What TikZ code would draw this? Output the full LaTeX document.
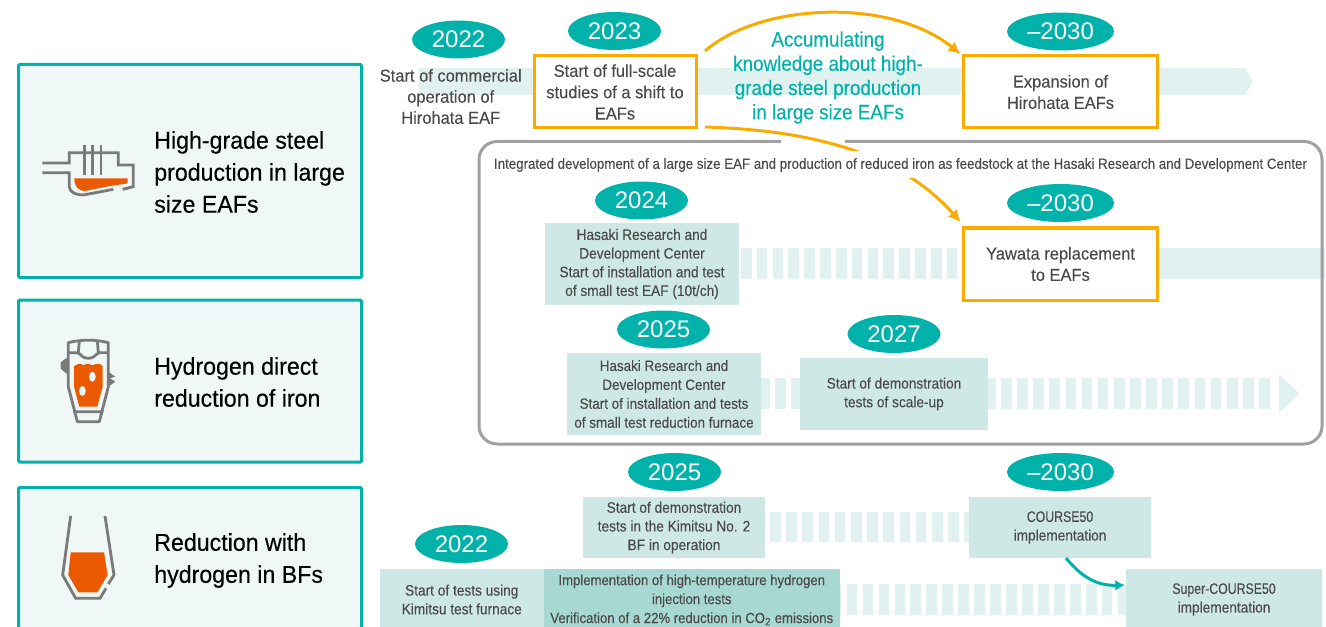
\documentclass[tikz,border=0pt]{standalone}
\usepackage{fontspec}
\setmainfont{Liberation Sans}
\newfontfamily\condf[FakeStretch=.90,FakeBold=.15]{Liberation Sans}
\newfontfamily\notef[FakeStretch=.95,FakeBold=.15]{Liberation Sans}
\newfontfamily\narrowf[FakeStretch=.81,FakeBold=.15]{Liberation Sans}
\newfontfamily\panelf[FakeStretch=.955,FakeBold=.3]{Liberation Sans}
\usetikzlibrary{arrows.meta,calc,shapes.geometric}
\definecolor{teal}{HTML}{00B2A9}
\definecolor{panelfill}{HTML}{EFF7F7}
\definecolor{band}{HTML}{E0F1EF}
\definecolor{boxfill}{HTML}{CEE8E5}
\definecolor{boxdark}{HTML}{A8D8D2}
\definecolor{amber}{HTML}{F9AB00}
\definecolor{frame}{HTML}{A0A0A0}
\definecolor{ink}{HTML}{4A4A4A}
\definecolor{icongray}{HTML}{7A7A7A}
\definecolor{molten}{HTML}{EB5A00}
\newcommand\pxw[1]{#1*0.75pt}
\tikzset{
  panel/.style={draw=teal,fill=panelfill,line width=2.25pt,rounded corners=1pt,inner sep=0pt,outer sep=0pt},
  paneltext/.style={anchor=west,align=left,inner sep=0pt,text=black,font=\panelf\fontsize{18.2}{24}\selectfont},
  yearoval/.style={ellipse,fill=teal,text=white,inner sep=0pt,outer sep=0pt,minimum width=\pxw{93},minimum height=\pxw{38},font=\fontsize{18}{20}\selectfont},
  amberbox/.style={draw=amber,fill=white,line width=2.25pt,inner sep=0pt,outer sep=0pt,align=center,text=ink,font=\notef\fontsize{13}{16}\selectfont},
  tealbox/.style={fill=boxfill,inner sep=0pt,outer sep=0pt,align=center,text=ink,font=\condf\fontsize{11.4}{14}\selectfont},
  darkbox/.style={tealbox,fill=boxdark,font=\condf\fontsize{10.95}{14.2}\selectfont},
  plainnote/.style={inner sep=0pt,align=center,text=ink,font=\notef\fontsize{13}{15.8}\selectfont},
  accumnote/.style={inner sep=0pt,align=center,text=teal,font=\condf\fontsize{15.7}{18.2}\selectfont},
  amberarrow/.style={draw=amber,line width=2.25pt,-{Latex[length=9pt,width=9pt]}},
  tealarrow/.style={draw=teal,line width=2.25pt,-{Latex[length=7pt,width=8pt]}},
  stripe/.style={fill=band,draw=none},
  icline/.style={draw=icongray,line width=2.1pt},
}
\begin{document}
\begin{tikzpicture}[x=0.75pt,y=-0.75pt]
\useasboundingbox (0,0) rectangle (1326,627);
\clip (0,0) rectangle (1326,627);

% left panels
\node[panel,minimum width=\pxw{343},minimum height=\pxw{213}] (p1) at (190,171) {};
\node[panel,minimum width=\pxw{343},minimum height=\pxw{162}] (p2) at (190,381) {};
\node[panel,minimum width=\pxw{343},minimum height=\pxw{141}] (p3) at (190,558) {};
\node[paneltext] (t1) at (154,172) {High-grade steel\\production in large\\size EAFs};
\node[paneltext] (t2) at (154,382) {Hydrogen direct\\reduction of iron};
\node[paneltext] (t3) at (154,560.5) {Reduction with\\hydrogen in BFs};

% icon 1
\begin{scope}[shift={(30,130)},x=0.25pt,y=-0.25pt]
  \fill[molten] (133,145) -- (293,145) -- (293,160) -- (230,170) -- (165,183) .. controls (142,181) and (133,168) .. cycle;
  \draw[icline] (37,99) -- (118,99) -- (118,68) -- (265,68) -- (265,105) -- (310,105) -- (310,170) -- (278,178);
  \draw[icline] (37,128) -- (118,128) -- (118,170) .. controls (118,188) and (140,195) .. (160,195) -- (250,178);
  \draw[icline] (163,45) -- (163,135) (187,45) -- (187,135) (213,45) -- (213,135);
\end{scope}
% icon 2
\begin{scope}[shift={(40,330)},x=0.25pt,y=-0.25pt]
  \fill[molten] (102,108) .. controls (115,100) and (125,100) .. (130,106) .. controls (140,100) and (150,100) .. (158,106) .. controls (170,100) and (180,100) .. (188,108) -- (188,170) -- (172,230) -- (118,230) -- (102,170) -- cycle;
  \fill[panelfill] (157,140) ellipse (10 and 15);
  \fill[panelfill] (127,183) ellipse (10 and 15);
  \fill[icongray] (62,97) -- (78,85) -- (86,85) -- (86,130) -- (78,130) -- (62,116) -- cycle;
  \fill[icongray] (205,125) -- (226,140) -- (210,145) -- (226,155) -- (205,170) -- cycle;
  \draw[icline,line join=round] (85,38) .. controls (125,28) and (165,28) .. (205,38) -- (205,170) -- (178,275) -- (112,275) -- (85,170) -- cycle;
  \draw[icline,line join=round] (85,68) -- (112,68) .. controls (125,72) and (125,85) .. (145,85) .. controls (165,85) and (165,72) .. (178,68) -- (205,68);
  \draw[icline] (118,33) -- (115,68) (172,33) -- (175,68) (100,245) -- (190,245);
\end{scope}
% icon 3
\begin{scope}[shift={(40,510)},x=0.25pt,y=-0.25pt]
  \fill[molten] (92,127) -- (192,127) -- (203,195) -- (172,247) -- (115,247) -- (85,195) -- cycle;
  \draw[icline] (92,18) -- (68,195) -- (107,265) -- (180,265) -- (198,235);
  \draw[icline] (205,222) -- (222,195) -- (195,18);
\end{scope}

% bands
\fill[band] (419,68) -- (1245,68) -- (1253,81.5) -- (1245,95) -- (419,95) -- cycle;
\fill[band] (1150,248) rectangle (1325,279);
\foreach \k in {0,...,13} \fill[stripe] ({740.9+15.83*\k},248.3) rectangle ++(10.7,30.7);
\foreach \k in {-15,...,16} \fill[stripe] ({1001+16.13*\k},378) rectangle ++(10.7,31);
\fill[band] (1279,374) -- (1299.3,393.5) -- (1279,413) -- cycle;
\foreach \k in {0,...,12} \fill[stripe] ({770+16.19*\k},511.7) rectangle ++(10.7,30.6);
\foreach \k in {0,...,18} \fill[stripe] ({1117.7-15.94*\k},584) rectangle ++(10.7,30.7);

% frame, with the opening where the amber connector crosses
\draw[frame,line width=2.25pt,rounded corners=13.5pt] (781,141.5) -- (479,141.5) -- (479,444) -- (1322,444) -- (1322,141.5) -- (845,141.5);

% amber boxes
\node[amberbox,minimum width=\pxw{162},minimum height=\pxw{72}] (b2023) at (615,92) {Start of full-scale\\studies of a shift to\\EAFs};
\node[amberbox,minimum width=\pxw{194},minimum height=\pxw{72}] (bexp) at (1060.5,92) {Expansion of\\Hirohata EAFs};
\node[amberbox,minimum width=\pxw{194},minimum height=\pxw{72}] (byaw) at (1060.5,264) {Yawata replacement\\to EAFs};

% connectors
\coordinate (c1s) at (705,51);
\coordinate (c2s) at (705,127);
\draw[amberarrow] (c1s) .. controls (760,3) and (890,-3) .. ([shift={(-3,-2)}]bexp.north west);
\draw[amberarrow] (c2s) .. controls (800,130) and (895,148) .. ([shift={(-3,-6)}]byaw.north west);

% frame title masks the amber connector
\node[inner sep=0pt,fill=white,minimum height=\pxw{27},minimum width=\pxw{820},text=ink,font=\condf\fontsize{11.1}{14}\selectfont] (title) at (900.5,165) {Integrated development of a large size EAF and production of reduced iron as feedstock at the Hasaki Research and Development Center};

% notes
\node[plainnote] (n1) at (450.7,96.5) {Start of commercial\\operation of\\Hirohata EAF};
\node[accumnote] (n2) at (828,77.5) {Accumulating\\knowledge about high-\\grade steel production\\in large size EAFs};

% teal boxes
\node[tealbox,minimum width=\pxw{194},minimum height=\pxw{82}] (b2024) at (642,264) {Hasaki Research and\\Development Center\\Start of installation and test\\of small test EAF (10t/ch)};
\node[tealbox,minimum width=\pxw{194},minimum height=\pxw{82},font=\condf\fontsize{11.2}{14.2}\selectfont] (b2025) at (664,394) {Hasaki Research and\\Development Center\\Start of installation and tests\\of small test reduction furnace};
\node[tealbox,minimum width=\pxw{188},minimum height=\pxw{72}] (b2027) at (894,394) {Start of demonstration\\tests of scale-up};
\node[tealbox,minimum width=\pxw{182},minimum height=\pxw{61}] (b2025b) at (674,527.5) {Start of demonstration\\tests in the Kimitsu No. 2\\BF in operation};
\node[tealbox,minimum width=\pxw{182},minimum height=\pxw{61}] (bc50) at (1060,527.5) {{\narrowf COURSE50}\\implementation};
\node[tealbox,minimum width=\pxw{163.5},minimum height=\pxw{61}] (b2022b) at (461.75,599.5) {Start of tests using\\Kimitsu test furnace};
\node[darkbox,minimum width=\pxw{295.5},minimum height=\pxw{62}] (bimpl) at (691.75,600) {Implementation of high-temperature hydrogen\\injection tests\\Verification of a 22\% reduction in CO\textsubscript{2} emissions};
\node[tealbox,minimum width=\pxw{196},minimum height=\pxw{61}] (bsuper) at (1224,599.5) {{\narrowf Super-COURSE50}\\implementation};

\draw[tealarrow] (bc50.south) ++(6,0) coordinate (c3s) .. controls (1080,575) and (1095,586) .. ([xshift=-1pt]bsuper.west |- 0,585);

% year ovals
\node[yearoval] (y1) at (458.5,39.5) {2022};
\node[yearoval] (y2) at (614.5,31) {2023};
\node[yearoval,minimum width=\pxw{107}] (y3) at (1060.5,31.5) {–2030};
\node[yearoval] (y4) at (641.5,200.5) {2024};
\node[yearoval,minimum width=\pxw{107}] (y5) at (1060.5,203) {–2030};
\node[yearoval] (y6) at (663.5,329.5) {2025};
\node[yearoval] (y7) at (894,334) {2027};
\node[yearoval] (y8) at (674.5,472) {2025};
\node[yearoval,minimum width=\pxw{107}] (y9) at (1060.5,472) {–2030};
\node[yearoval] (y10) at (461.5,544) {2022};
\end{tikzpicture}
\end{document}
